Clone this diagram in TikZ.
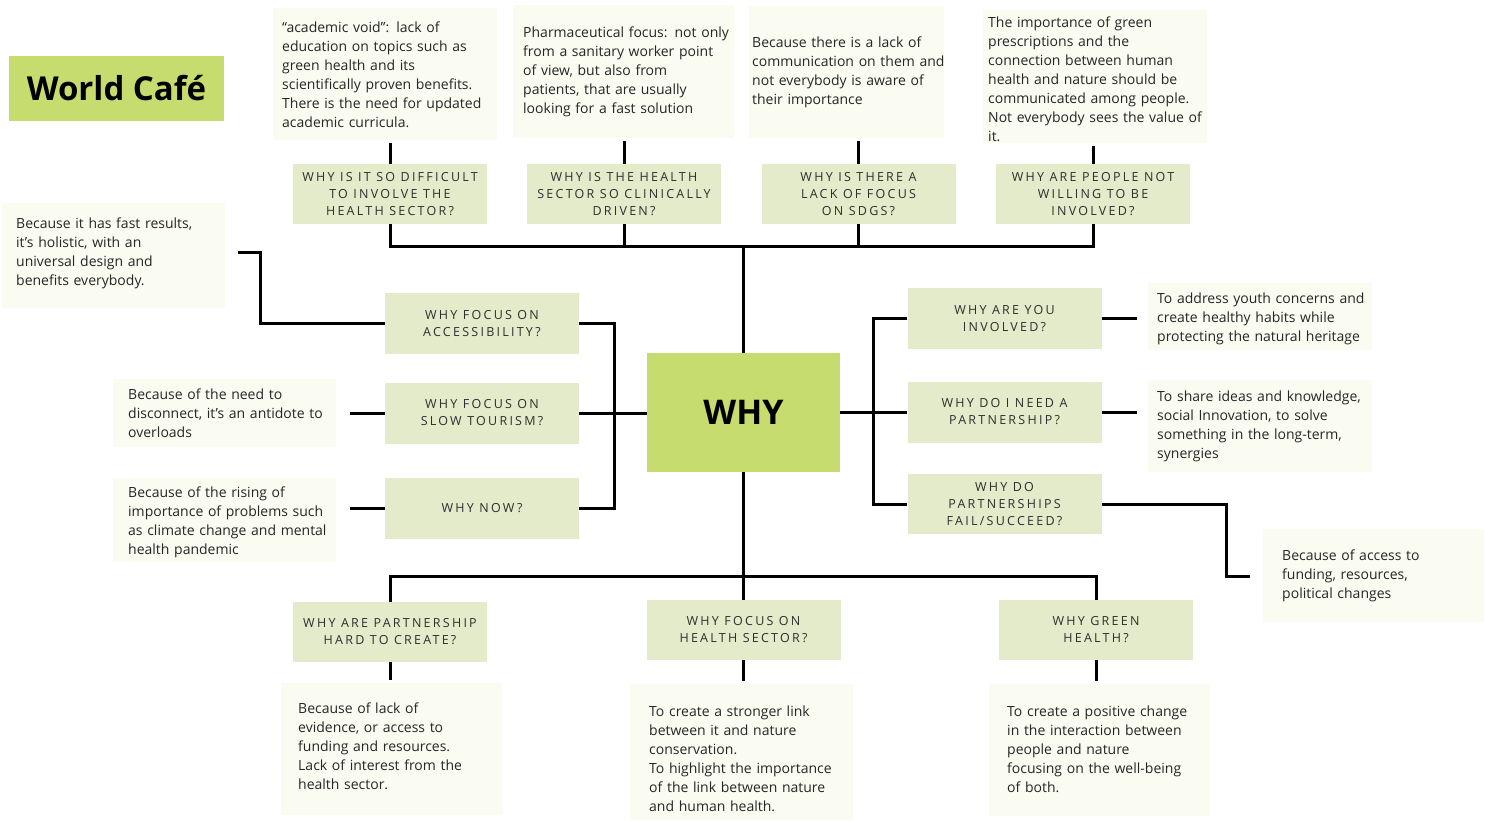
\documentclass[tikz,border=0pt]{standalone}
\usepackage{fontspec}
\setmainfont{Open Sans}
\newfontfamily\qfam[LetterSpace=18]{Open Sans}
\definecolor{limec}{HTML}{C6DC6E}
\definecolor{qc}{HTML}{E3EBCB}
\definecolor{ansc}{HTML}{FAFBF1}
\definecolor{txtc}{HTML}{262626}
\definecolor{qtxt}{HTML}{2E2E2E}
\newcommand\lns[1]{\begin{tabular}{@{}l@{}}#1\end{tabular}}
\newcommand\dn[2]{\raisebox{-#1}[\height][\depth]{#2}}
\tikzset{
  ans/.style={fill=ansc, inner ysep=0pt, anchor=north west, align=left, text=txtc,
    font=\fontsize{14}{19}\selectfont},
  qbox/.style={fill=qc, inner sep=0pt, minimum width=194pt, minimum height=61pt,
    align=center, text=qtxt, font=\qfam\fontsize{12.5}{17}\selectfont},
  conn/.style={line width=3pt, black, line join=miter},
}
\begin{document}
\begin{tikzpicture}[x=1pt,y=-1pt]
\useasboundingbox (0,0) rectangle (1485,820);

% title
\node[fill=limec, minimum width=215pt, minimum height=65pt, inner sep=0pt,
  font=\bfseries\fontsize{33}{33}\selectfont, text=black] (title) at (116.5,88.5) {World Café};

% center
\node[fill=limec, minimum width=193pt, minimum height=119pt, inner sep=0pt,
  font=\bfseries\fontsize{34}{34}\selectfont, text=black] (why) at (743.5,412.5) {WHY};

% top answers
\node[ans, text width=206pt, inner xsep=9pt, minimum height=132pt] (A1) at (273,8)
  {\dn{1.5pt}{\lns{“academic void”: lack of\\education on topics such as\\green health and its\\scientifically proven benefits.\\There is the need for updated\\academic curricula.}}};
\node[ans, text width=201pt, inner xsep=10pt, minimum height=133pt] (A2) at (513,5)
  {\lns{Pharmaceutical focus: not only\\from a sanitary worker point\\of view, but also from\\patients, that are usually\\looking for a fast solution}};
\node[ans, text width=189pt, inner xsep=3pt, minimum height=132pt] (A3) at (749,6)
  {\lns{Because there is a lack of\\communication on them and\\not everybody is aware of\\their importance}};
\node[ans, text width=214pt, inner xsep=5pt, minimum height=133pt] (A4) at (983,10)
  {\dn{4pt}{\lns{The importance of green\\prescriptions and the\\connection between human\\health and nature should be\\communicated among people.\\Not everybody sees the value of\\it.}}};

% top questions
\node[qbox, minimum height=60pt] (Q1) at (390,194) {WHY IS IT SO DIFFICULT\\TO INVOLVE THE\\HEALTH SECTOR?};
\node[qbox, minimum height=60pt] (Q2) at (624,194) {WHY IS THE HEALTH\\SECTOR SO CLINICALLY\\DRIVEN?};
\node[qbox, minimum height=60pt] (Q3) at (858.5,194) {WHY IS THERE A\\LACK OF FOCUS\\ON SDGS?};
\node[qbox, minimum height=60pt] (Q4) at (1093,194) {WHY ARE PEOPLE NOT\\WILLING TO BE\\INVOLVED?};

% left questions
\node[qbox] (QL1) at (482,323.5) {WHY FOCUS ON\\ACCESSIBILITY?};
\node[qbox] (QL2) at (482,413) {WHY FOCUS ON\\SLOW TOURISM?};
\node[qbox] (QL3) at (482,508.5) {WHY NOW?};

% left answers
\node[ans, text width=195pt, inner xsep=14pt, minimum height=105pt] (AL1) at (2,203)
  {\dn{-2.5pt}{\lns{Because it has fast results,\\it’s holistic, with an\\universal design and\\benefits everybody.}}};
\node[ans, text width=193pt, inner xsep=15pt, minimum height=68pt] (AL2) at (113,379)
  {\dn{1.5pt}{\lns{Because of the need to\\disconnect, it’s an antidote to\\overloads}}};
\node[ans, text width=193pt, inner xsep=15pt, minimum height=84pt] (AL3) at (113,478)
  {\dn{1.5pt}{\lns{Because of the rising of\\importance of problems such\\as climate change and mental\\health pandemic}}};

% right questions
\node[qbox] (QR1) at (1004.5,318.5) {WHY ARE YOU\\INVOLVED?};
\node[qbox] (QR2) at (1004.5,412) {WHY DO I NEED A\\PARTNERSHIP?};
\node[qbox, minimum height=60pt] (QR3) at (1004.5,504) {WHY DO\\PARTNERSHIPS\\FAIL/SUCCEED?};

% right answers
\node[ans, text width=206pt, inner xsep=9pt, minimum height=67pt] (AR1) at (1148,283)
  {\dn{2pt}{\lns{To address youth concerns and\\create healthy habits while\\protecting the natural heritage}}};
\node[ans, text width=206pt, inner xsep=9pt, minimum height=92pt] (AR2) at (1148,380)
  {\lns{To share ideas and knowledge,\\social Innovation, to solve\\something in the long-term,\\synergies}};
\node[ans, text width=183pt, inner xsep=19pt, minimum height=93pt] (AR3) at (1263,529)
  {\lns{Because of access to\\funding, resources,\\political changes}};

% bottom questions
\node[qbox, minimum height=60pt] (QB1) at (390,632) {WHY ARE PARTNERSHIP\\HARD TO CREATE?};
\node[qbox, minimum height=60pt] (QB2) at (743.5,630) {WHY FOCUS ON\\HEALTH SECTOR?};
\node[qbox, minimum height=60pt] (QB3) at (1096,630) {WHY GREEN\\HEALTH?};

% bottom answers
\node[ans, text width=187pt, inner xsep=17pt, minimum height=132pt] (AB1) at (281,683)
  {\dn{-2pt}{\lns{Because of lack of\\evidence, or access to\\funding and resources.\\Lack of interest from the\\health sector.}}};
\node[ans, text width=185pt, inner xsep=19pt, minimum height=136pt] (AB2) at (630,684)
  {\dn{7.5pt}{\lns{To create a stronger link\\between it and nature\\conservation.\\To highlight the importance\\of the link between nature\\and human health.}}};
\node[ans, text width=185pt, inner xsep=18pt, minimum height=132pt] (AB3) at (989,684)
  {\lns{To create a positive change\\in the interaction between\\people and nature\\focusing on the well-being\\of both.}};

% coordinates
\coordinate (bt) at (743.5,246);
\coordinate (bb) at (743.5,576);
\coordinate (lx) at (614,0);
\coordinate (rx) at (873,0);
\coordinate (k1) at (260,252);
\coordinate (k3) at (1226,576);

% top connectors
\foreach \q/\a in {Q1/A1,Q2/A2,Q3/A3,Q4/A4}
  \draw[conn, shorten >=3pt] (\q.north) -- (\q.north |- \a.south);
\draw[conn] (Q1.south) -- (Q1.south |- bt) -- (Q4.south |- bt) -- (Q4.south);
\draw[conn] (Q2.south) -- (Q2.south |- bt);
\draw[conn] (Q3.south) -- (Q3.south |- bt);
\draw[conn] (why.north) -- (why.north |- bt);

% left connectors
\draw[conn] (QL1.east) -- (QL1.east -| lx) -- (QL3.east -| lx) -- (QL3.east);
\draw[conn] (QL2.east) -- (QL2.east -| why.west);
\draw[conn] (QL1.west) -| (k1) -- ([xshift=13pt]AL1.east |- k1);
\draw[conn] (QL2.west) -- ([xshift=14pt]AL2.east |- QL2.west);
\draw[conn] (QL3.west) -- ([xshift=14pt]AL3.east |- QL3.west);

% right connectors
\draw[conn] (QR1.west) -- (QR1.west -| rx) -- (QR3.west -| rx) -- (QR3.west);
\draw[conn] (why.east) -- (why.east -| QR2.west);
\draw[conn] (QR1.east) -- ([xshift=-11pt]AR1.west |- QR1.east);
\draw[conn] (QR2.east) -- ([xshift=-11pt]AR2.west |- QR2.east);
\draw[conn] (QR3.east) -| (k3) -- ([xshift=-13pt]AR3.west |- k3);

% bottom connectors
\draw[conn] (QB1.north) -- (QB1.north |- bb) -- (QB3.north |- bb) -- (QB3.north);
\draw[conn] (why.south) -- (QB2.north);
\foreach \q/\a in {QB1/AB1,QB2/AB2,QB3/AB3}
  \draw[conn, shorten >=3pt] (\q.south) -- (\q.south |- \a.north);
\end{tikzpicture}
\end{document}
